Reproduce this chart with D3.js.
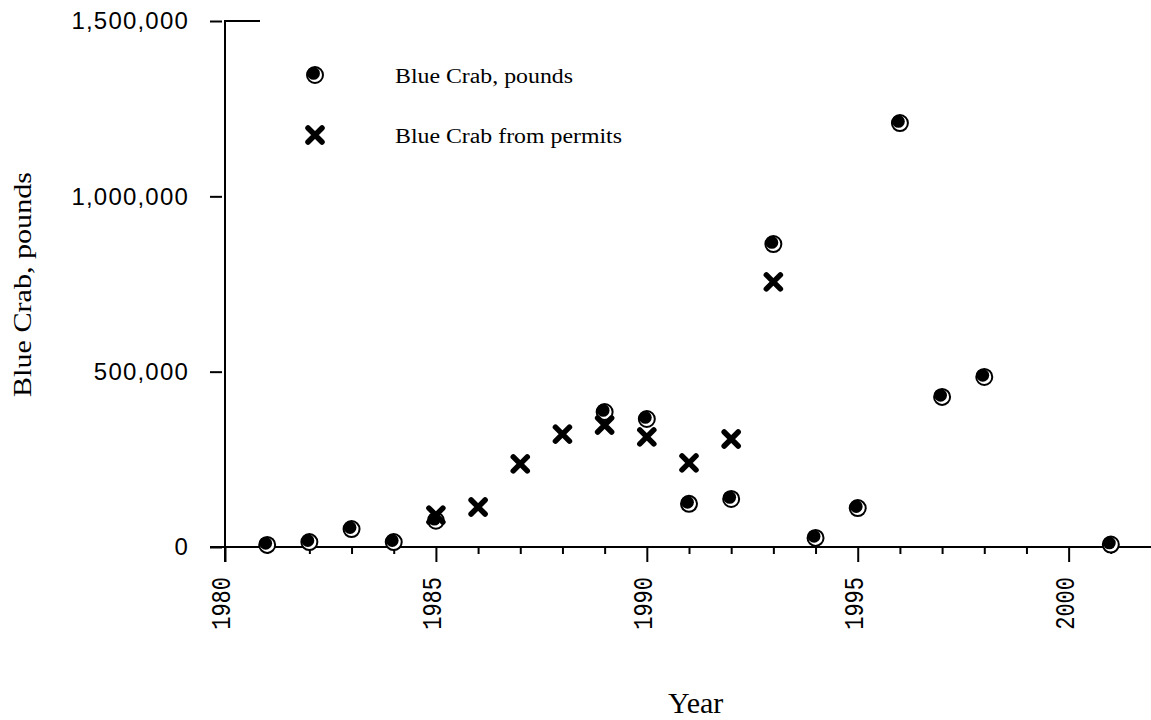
<!DOCTYPE html>
<html><head><meta charset="utf-8">
<script src="https://cdn.jsdelivr.net/npm/d3@7"></script>
<style>html,body{margin:0;padding:0;background:#fff;}</style>
</head><body>
<svg id="chart" width="1151" height="720"></svg>
<script>
// Data
const poundsYears = [1981,1982,1983,1984,1985,1989,1990,1991,1992,1993,1994,1995,1996,1997,1998,2001];
const poundsValues = [6000,14000,51000,14000,75000,385000,365000,123000,137000,864000,26000,111000,1209000,428000,485000,7000];
const permitYears = [1985,1986,1987,1988,1989,1990,1991,1992,1993];
const permitValues = [91000,114000,237000,322000,348000,314000,240000,308000,756000];
const yTicks = [0,500000,1000000,1500000];
const xMajorTicks = [1980,1985,1990,1995,2000];
const xMinorTicks = d3.range(1980,2002);
const seriesNames = ["Blue Crab, pounds","Blue Crab from permits"];

const svg = d3.select("#chart");
const x = d3.scaleLinear().domain([1980,2002]).range([225,1153]);
const y = d3.scaleLinear().domain([0,1500000]).range([547,21]);

const fmt = d3.format(",");

// axes lines
svg.append("line").attr("x1",225).attr("x2",225).attr("y1",y(1500000)).attr("y2",y(0)+15)
  .attr("stroke","#000").attr("stroke-width",2);
svg.append("line").attr("x1",210).attr("x2",1151).attr("y1",y(0)).attr("y2",y(0))
  .attr("stroke","#000").attr("stroke-width",2);
svg.append("line").attr("x1",224).attr("x2",260).attr("y1",y(1500000)).attr("y2",y(1500000))
  .attr("stroke","#000").attr("stroke-width",2);

// y axis
const yAxis = d3.axisLeft(y).tickValues(yTicks).tickSize(12).tickPadding(0).tickFormat(fmt);
const gy = svg.append("g").attr("transform","translate(222,0)").call(yAxis);
gy.select(".domain").remove();
gy.selectAll(".tick line").attr("stroke","#000").attr("stroke-width",2);
gy.selectAll(".tick text").attr("x",-33).attr("font-family","'Liberation Sans', Arial, sans-serif")
  .attr("font-size",24).attr("letter-spacing","1.2px").attr("fill","#000");

// x minor ticks
const gxm = svg.append("g").attr("transform",`translate(0,${y(0)})`)
  .call(d3.axisBottom(x).tickValues(xMinorTicks.filter(d=>d%5!==0)).tickSize(7).tickFormat(""));
gxm.select(".domain").remove();
gxm.selectAll(".tick line").attr("stroke","#000").attr("stroke-width",2);
// x major ticks
const gx = svg.append("g").attr("transform",`translate(0,${y(0)})`)
  .call(d3.axisBottom(x).tickValues(xMajorTicks).tickSize(15).tickFormat(d3.format("d")));
gx.select(".domain").remove();
gx.selectAll(".tick line").attr("stroke","#000").attr("stroke-width",2);
gx.selectAll(".tick text").attr("y",null).attr("dy",null)
  .attr("transform","translate(-3,30) rotate(-90) scale(1,1.25)")
  .attr("text-anchor","end").attr("dominant-baseline","central")
  .attr("font-family","'Liberation Mono', monospace").attr("font-size",22).attr("fill","#000");

// markers
function circleMarker(g){
  g.append("circle").attr("r",8).attr("fill","#fff").attr("stroke","#000").attr("stroke-width",2);
  g.append("circle").attr("r",6.4).attr("cx",-1.5).attr("cy",-1.6).attr("fill","#000");
}
function crossMarker(g){
  g.append("path").attr("d","M-7,-7L7,7M7,-7L-7,7").attr("stroke","#000")
   .attr("stroke-width",5.5).attr("stroke-linecap","round").attr("fill","none");
}

const pts = poundsYears.map((yr,i)=>({yr,v:poundsValues[i]}));
svg.append("g").selectAll("g").data(pts).join("g")
  .attr("transform",d=>`translate(${x(d.yr)},${y(d.v)})`).each(function(){circleMarker(d3.select(this));});
const pm = permitYears.map((yr,i)=>({yr,v:permitValues[i]}));
svg.append("g").selectAll("g").data(pm).join("g")
  .attr("transform",d=>`translate(${x(d.yr)},${y(d.v)})`).each(function(){crossMarker(d3.select(this));});

// legend
const leg = svg.append("g");
circleMarker(leg.append("g").attr("transform","translate(315,75)"));
crossMarker(leg.append("g").attr("transform","translate(315,135)"));
leg.append("text").attr("x",395).attr("y",83).text(seriesNames[0])
  .attr("font-family","'Liberation Serif', 'Times New Roman', serif").attr("font-size",20)
  .attr("textLength",178).attr("lengthAdjust","spacingAndGlyphs");
leg.append("text").attr("x",395).attr("y",143).text(seriesNames[1])
  .attr("font-family","'Liberation Serif', 'Times New Roman', serif").attr("font-size",20)
  .attr("textLength",227).attr("lengthAdjust","spacingAndGlyphs");

// axis titles
svg.append("text").attr("x",668).attr("y",713).text("Year")
  .attr("font-family","'Liberation Serif', 'Times New Roman', serif").attr("font-size",30);
svg.append("text").attr("transform","translate(31,397) rotate(-90)").text("Blue Crab, pounds")
  .attr("font-family","'Liberation Serif', 'Times New Roman', serif").attr("font-size",26)
  .attr("textLength",225).attr("lengthAdjust","spacingAndGlyphs");
</script>
</body></html>
